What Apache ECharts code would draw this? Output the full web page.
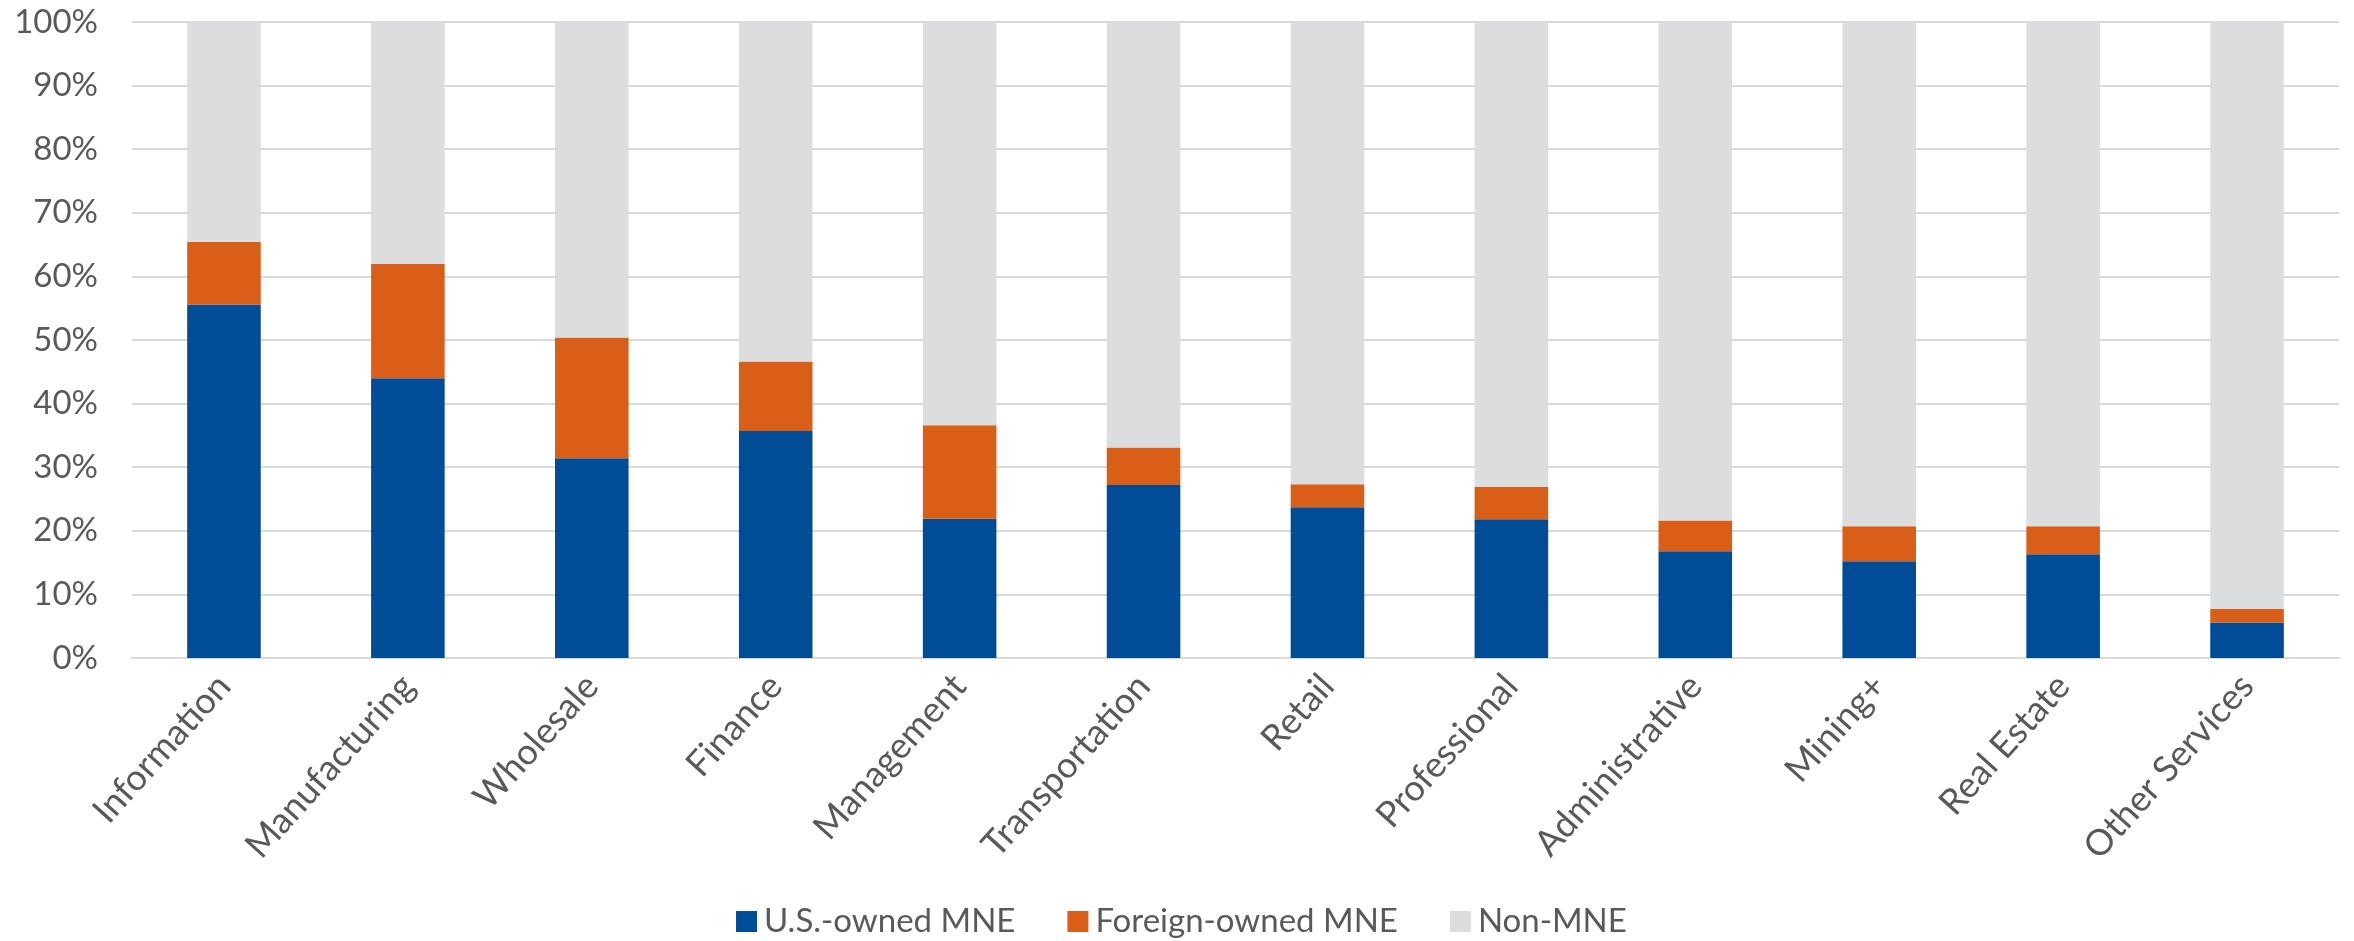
<!DOCTYPE html>
<html>
<head>
<meta charset="utf-8">
<script src="https://cdn.jsdelivr.net/npm/echarts@6/dist/echarts.min.js"></script>
<style>
  html, body { margin: 0; padding: 0; background: #fff; }
  #chart { width: 2354px; height: 941px; }
</style>
</head>
<body>
<div id="chart"></div>
<script>
// industry categories, left to right
const industries = ['Information', 'Manufacturing', 'Wholesale', 'Finance', 'Management',
  'Transportation', 'Retail', 'Professional', 'Administrative', 'Mining+', 'Real Estate', 'Other Services'];

// shares in percent
const usOwned = [55.6, 44.0, 31.4, 35.7, 21.9, 27.2, 23.7, 21.8, 16.8, 15.2, 16.3, 5.6];
const foreignOwned = [9.8, 18.0, 19.0, 10.9, 14.7, 5.9, 3.6, 5.1, 4.8, 5.5, 4.4, 2.1];
const nonMne = [34.6, 38.0, 49.6, 53.4, 63.4, 66.9, 72.7, 73.1, 78.4, 79.3, 79.3, 92.3];

const seriesNames = ['U.S.-owned MNE', 'Foreign-owned MNE', 'Non-MNE'];
const colors = ['#004c97', '#d95f19', '#dcdddf'];

const fontFamily = 'Lato, "Open Sans", sans-serif';
const textColor = '#595959';

const chart = echarts.init(document.getElementById('chart'), null, { renderer: 'canvas' });

function barSeries(name, data, color) {
  return {
    name: name,
    type: 'bar',
    stack: 'total',
    barWidth: '40%',
    data: data,
    itemStyle: { color: color },
    emphasis: { disabled: true }
  };
}

chart.setOption({
  animation: false,
  color: colors,
  grid: { left: 132, right: 15, top: 22, bottom: 283 },
  legend: {
    left: 731,
    top: 900,
    itemWidth: 21,
    itemHeight: 21,
    itemGap: 52,
    icon: 'rect',
    textStyle: { fontFamily: fontFamily, fontSize: 33, color: textColor, padding: [0, 0, 0, 2] },
    data: seriesNames
  },
  xAxis: {
    type: 'category',
    data: industries,
    axisLine: { lineStyle: { color: '#d9d9d9', width: 2 } },
    axisTick: { show: false },
    axisLabel: {
      rotate: 48,
      interval: 0,
      margin: 22,
      fontFamily: fontFamily,
      fontSize: 36,
      color: textColor
    }
  },
  yAxis: {
    type: 'value',
    min: 0,
    max: 100,
    interval: 10,
    axisLine: { show: false },
    axisTick: { show: false },
    splitLine: { lineStyle: { color: '#d9d9d9', width: 2 } },
    axisLabel: {
      margin: 34,
      fontFamily: fontFamily,
      fontSize: 33,
      color: textColor,
      formatter: '{value}%'
    }
  },
  series: [
    barSeries(seriesNames[0], usOwned, colors[0]),
    barSeries(seriesNames[1], foreignOwned, colors[1]),
    barSeries(seriesNames[2], nonMne, colors[2])
  ]
});
</script>
</body>
</html>
